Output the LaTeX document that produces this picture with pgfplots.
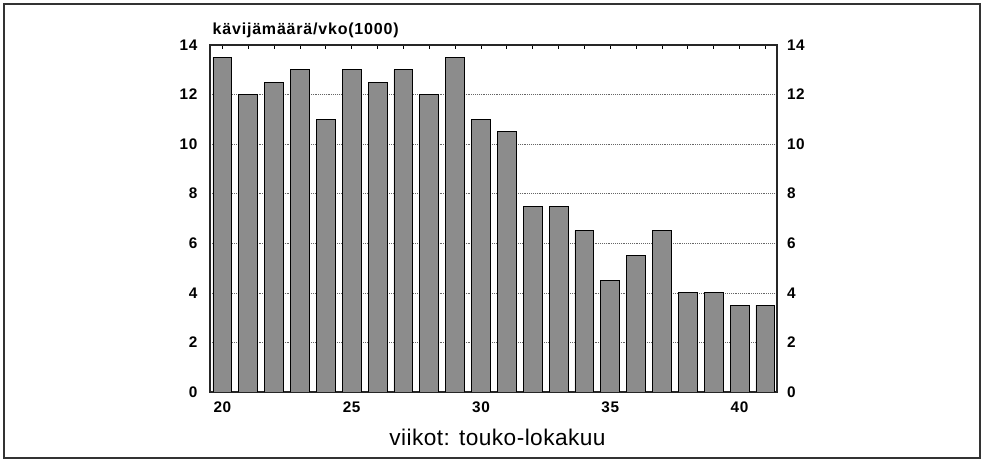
\documentclass[border=0pt]{standalone}
\usepackage{fontspec}
\setmainfont{Liberation Sans}
\usepackage{pgfplots}
\pgfplotsset{compat=1.18}
\begin{document}
\begin{tikzpicture}[x=1pt,y=1pt]
\useasboundingbox (-157.5,-53.25) rectangle (580.5,294);
\draw[line width=0.9pt, black!80] (-154.5,-49.5) rectangle (577.5,291);
\begin{axis}[
  at={(0,0)}, anchor=south west,
  scale only axis, width=425.25pt, height=260.25pt,
  xmin=19.52, xmax=41.45, ymin=0, ymax=14,
  axis y line*=box,
  ytick={0,2,...,14},
  xtick={20,25,30,35,40},
  minor xtick={20,...,41},
  tick align=inside,
  major tick length=3pt, minor tick length=3pt,
  ytick style={draw=none},
  xtick style={black, line width=0.6pt},
  minor tick style={black, line width=0.6pt},
  ymajorgrids, grid style={densely dotted, black!60, line width=0.5pt},
  axis line style={black!85, line width=0.8pt},
  yticklabel style={font=\bfseries\fontsize{11.5}{13}\selectfont\addfontfeature{LetterSpace=4}, xshift=-6pt},
  xticklabel style={font=\bfseries\fontsize{11.5}{13}\selectfont\addfontfeature{LetterSpace=4}, yshift=-4pt},
  /pgf/number format/assume math mode=true,
  ylabel={kävijämäärä/vko(1000)},
  ylabel style={rotate=-90, at={(rel axis cs:0,1)}, anchor=base west, yshift=7.5pt, xshift=-1.5pt, font=\bfseries\fontsize{12}{13}\selectfont\addfontfeature{LetterSpace=5}},
  xlabel={viikot: touko-lokakuu},
  xlabel style={font=\fontsize{17}{20}\selectfont\addfontfeature{LetterSpace=2}, xshift=3pt, yshift=-5pt},
]
\addplot[ybar, bar width=0.73, fill=black!45, draw=black, line width=0.6pt] coordinates {
(20,13.5) (21,12) (22,12.5) (23,13) (24,11) (25,13) (26,12.5) (27,13) (28,12) (29,13.5)
(30,11) (31,10.5) (32,7.5) (33,7.5) (34,6.5) (35,4.5) (36,5.5) (37,6.5) (38,4) (39,4)
(40,3.5) (41,3.5)};
\end{axis}
\begin{axis}[
  at={(0,0)}, anchor=south west,
  scale only axis, width=425.25pt, height=260.25pt,
  xmin=19.52, xmax=41.45, ymin=0, ymax=14,
  axis x line=none, axis y line*=right,
  ytick={0,2,...,14}, ytick style={draw=none},
  axis line style={draw=none},
  /pgf/number format/assume math mode=true,
  yticklabel style={font=\bfseries\fontsize{11.5}{13}\selectfont\addfontfeature{LetterSpace=4}, xshift=4pt},
]
\addplot[draw=none] coordinates {(20,0)};
\end{axis}
\end{tikzpicture}
\end{document}
